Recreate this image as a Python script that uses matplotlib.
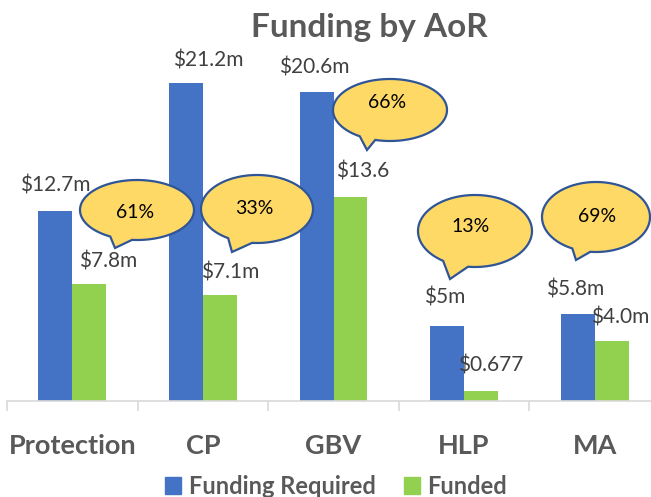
"""
Funding by AoR - grouped bar chart with callout bubbles
"""
import numpy as np
import matplotlib
matplotlib.use('Agg')
import matplotlib.pyplot as plt
from matplotlib.patches import Polygon, Patch

categories = ['Protection', 'CP', 'GBV', 'HLP', 'MA']
required = [12.7, 21.2, 20.6, 5.0, 5.8]
funded = [7.8, 7.1, 13.6, 0.677, 4.0]
required_labels = ['$12.7m', '$21.2m', '$20.6m', '$5m', '$5.8m']
funded_labels = ['$7.8m', '$7.1m', '$13.6', '$0.677', '$4.0m']
pct_labels = ['61%', '33%', '66%', '13%', '69%']

W, H = 651, 497
BLUE = '#4472C4'
GREEN = '#92D050'
GREY_TXT = '#595959'
LABEL_TXT = '#404040'

plt.rcParams['font.family'] = ['Lato', 'DejaVu Sans']

fig = plt.figure(figsize=(W / 100, H / 100), dpi=100)
ax = fig.add_axes([7 / W, 96 / H, 653 / W, 375 / H])

x = np.arange(len(categories))
bw = 0.26
ax.bar(x - bw / 2, required, bw, color=BLUE, zorder=2)
ax.bar(x + bw / 2, funded, bw, color=GREEN, zorder=2)

ax.set_xlim(-0.5, len(categories) - 0.5)
ax.set_ylim(0, 25)
ax.set_yticks([])
for s in ['top', 'right', 'left']:
    ax.spines[s].set_visible(False)
ax.spines['bottom'].set_color('#D9D9D9')
ax.spines['bottom'].set_linewidth(1.2)

ax.set_xticks(x)
ax.set_xticklabels(categories, fontsize=19.5, fontweight='bold', color=GREY_TXT)
ax.tick_params(axis='x', which='major', length=0, pad=24)
ax.set_xticks(np.arange(-0.5, len(categories)), minor=True)
ax.tick_params(axis='x', which='minor', length=7, width=1.2, color='#D9D9D9')

# hand-placed data labels (pixel offsets from top of each bar)
req_offsets = [(0, 25), (22, 23), (-2, 25), (-2, 28), (-3, 25)]
fund_offsets = [(19, 22), (10, 22), (12, 26), (10, 25), (9, 24)]
for i in range(len(categories)):
    ax.annotate(required_labels[i], (x[i] - bw / 2, required[i]),
                xytext=req_offsets[i], textcoords='offset pixels',
                ha='center', va='center', fontsize=15, color=LABEL_TXT)
    ax.annotate(funded_labels[i], (x[i] + bw / 2, funded[i]),
                xytext=fund_offsets[i], textcoords='offset pixels',
                ha='center', va='center', fontsize=15, color=LABEL_TXT)


def img2fig(px, py):
    return px / W, 1 - py / H


# callout bubbles: centre, semi-axes, tail base angles, tail tip, text pos (image px)
callouts = [
    (137, 210, 57, 30, 242, 265, 115, 248, 135, 212),
    (257, 209, 56, 34, 239, 265, 232, 252, 254, 209),
    (390, 110, 57, 31, 238, 255, 367, 150, 387, 103),
    (475, 231, 57, 36, 236, 263, 450, 279, 471, 226),
    (596, 217, 54, 35, 244, 264, 576, 260, 597, 216),
]
for (cx, cy, a, b, t1, t2, tx, ty, lx, ly), pct in zip(callouts, pct_labels):
    ang = np.radians(np.linspace(t2, t1 + 360, 120))
    pts = [img2fig(cx + a * np.cos(t), cy - b * np.sin(t)) for t in ang]
    pts.append(img2fig(tx, ty))
    bubble = Polygon(pts, closed=True, facecolor='#FFD966', edgecolor='#2F5597',
                     linewidth=1.6, transform=fig.transFigure, zorder=5)
    fig.add_artist(bubble)
    fx, fy = img2fig(lx, ly)
    fig.text(fx, fy, pct, ha='center', va='center', fontsize=14,
             color='black', zorder=6)

fx, fy = img2fig(369, 37)
fig.text(fx, fy, 'Funding by AoR', ha='center', va='baseline',
         fontsize=24, fontweight='bold', color=GREY_TXT)

handles = [Patch(color=BLUE, label='Funding Required'),
           Patch(color=GREEN, label='Funded')]
lx, ly = img2fig(336, 486)
fig.legend(handles=handles, loc='center', bbox_to_anchor=(lx, ly), ncol=2,
           frameon=False, handlelength=0.7, handleheight=0.7,
           handletextpad=0.3, columnspacing=1.2,
           prop={'size': 17, 'weight': 'bold'}, labelcolor=GREY_TXT)

plt.savefig('out.png', dpi=100)
plt.close()
